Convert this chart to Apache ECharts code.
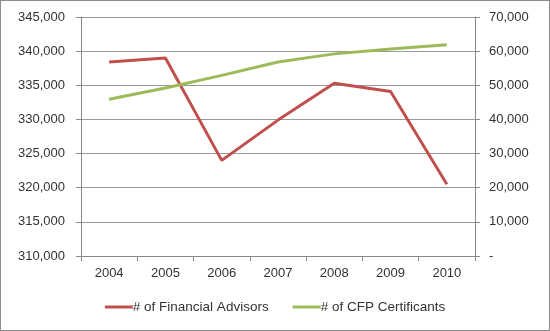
<!DOCTYPE html>
<html><head><meta charset="utf-8">
<script src="https://cdn.jsdelivr.net/npm/echarts@6/dist/echarts.min.js"></script>
<style>html,body{margin:0;padding:0;background:#fff}#c{width:548px;height:329px;border:1px solid #8c8c8c;}</style>
</head><body><div id="c"></div>
<script>
const categories = ['2004','2005','2006','2007','2008','2009','2010'];
const advisors = [338400, 339000, 324000, 329900, 335300, 334100, 320500];
const cfp = [45900, 49200, 52900, 56800, 59200, 60600, 61900];
const chart = echarts.init(document.getElementById('c'));
const font = 'Liberation Sans';
chart.setOption({
  animation:false,
  textStyle:{fontFamily:font},
  grid:{left:80,right:74,top:16,bottom:74},
  legend:{bottom:11,left:'center',itemWidth:28,itemHeight:3,itemGap:24,icon:'rect',
    textStyle:{fontSize:13.5,color:'#333',fontFamily:font,padding:[0,0,0,-5]},
    data:['# of Financial Advisors','# of CFP Certificants']},
  xAxis:{type:'category',data:categories,boundaryGap:true,
    axisLine:{lineStyle:{color:'#888'}},axisTick:{show:true,length:5,lineStyle:{color:'#888'}},
    axisLabel:{color:'#333',fontSize:13,margin:11}},
  yAxis:[
    {type:'value',min:310000,max:345000,interval:5000,
     axisLine:{show:true,lineStyle:{color:'#888'}},axisTick:{show:true,length:5,lineStyle:{color:'#888'}},
     splitLine:{lineStyle:{color:'#9a9a9a'}},
     axisLabel:{color:'#333',fontSize:13,margin:16,formatter:v=>v.toLocaleString('en-US')}},
    {type:'value',min:0,max:70000,interval:10000,position:'right',
     axisLine:{show:true,lineStyle:{color:'#888'}},axisTick:{show:true,length:5,lineStyle:{color:'#888'}},
     splitLine:{show:false},
     axisLabel:{color:'#333',fontSize:13,margin:14,formatter:v=>v===0?'-':v.toLocaleString('en-US')}}
  ],
  series:[
    {name:'# of Financial Advisors',type:'line',data:advisors,yAxisIndex:0,symbol:'none',
     lineStyle:{color:'#C0504D',width:3},itemStyle:{color:'#C0504D'}},
    {name:'# of CFP Certificants',type:'line',data:cfp,yAxisIndex:1,symbol:'none',
     lineStyle:{color:'#9BBB59',width:3},itemStyle:{color:'#9BBB59'}}
  ]
});
</script></body></html>
